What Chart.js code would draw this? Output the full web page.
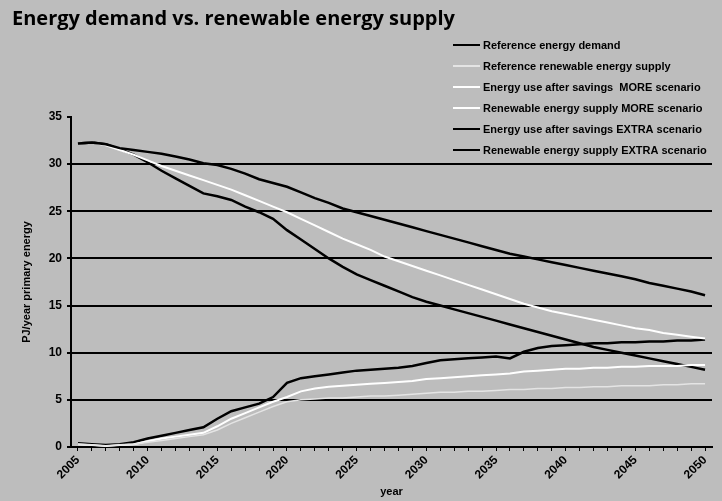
<!DOCTYPE html>
<html>
<head>
<meta charset="utf-8">
<title>Energy demand vs. renewable energy supply</title>
<script src="https://cdn.jsdelivr.net/npm/chart.js@4.4.1/dist/chart.umd.min.js"></script>
<style>
    html, body { margin: 0; padding: 0; background: #bdbdbd; }
    canvas { display: block; }
</style>
</head>
<body>
<canvas id="energyChart" width="722" height="501"></canvas>
<script>
// categories
const years = [
    "2005", "2006", "2007", "2008", "2009", "2010", "2011", "2012", "2013", "2014",
    "2015", "2016", "2017", "2018", "2019", "2020", "2021", "2022", "2023", "2024",
    "2025", "2026", "2027", "2028", "2029", "2030", "2031", "2032", "2033", "2034",
    "2035", "2036", "2037", "2038", "2039", "2040", "2041", "2042", "2043", "2044",
    "2045", "2046", "2047", "2048", "2049", "2050"
];

// tick labels shown on the axes
const yearLabels = ["2005", "2010", "2015", "2020", "2025", "2030", "2035", "2040", "2045", "2050"];
const yTicks = [0, 5, 10, 15, 20, 25, 30, 35];

// PJ/year primary energy
const refDemand = [
    32.2, 32.3, 32.1, 31.7, 31.5, 31.3, 31.1, 30.8, 30.5, 30.1,
    29.9, 29.5, 29.0, 28.4, 28.0, 27.6, 27.0, 26.4, 25.9, 25.3,
    24.9, 24.5, 24.1, 23.7, 23.3, 22.9, 22.5, 22.1, 21.7, 21.3,
    20.9, 20.5, 20.2, 19.9, 19.6, 19.3, 19.0, 18.7, 18.4, 18.1,
    17.8, 17.4, 17.1, 16.8, 16.5, 16.1
];

const refRenewable = [
    0.3, 0.2, 0.1, 0.2, 0.3, 0.5, 0.7, 0.9, 1.1, 1.3,
    1.8, 2.5, 3.1, 3.7, 4.3, 4.8, 5.0, 5.1, 5.2, 5.2,
    5.3, 5.4, 5.4, 5.5, 5.6, 5.7, 5.8, 5.8, 5.9, 5.9,
    6.0, 6.1, 6.1, 6.2, 6.2, 6.3, 6.3, 6.4, 6.4, 6.5,
    6.5, 6.5, 6.6, 6.6, 6.7, 6.7
];

const moreUse = [
    32.2, 32.3, 32.0, 31.5, 31.0, 30.4, 29.8, 29.3, 28.8, 28.3,
    27.8, 27.3, 26.7, 26.1, 25.5, 24.9, 24.2, 23.5, 22.8, 22.1,
    21.5, 20.9, 20.2, 19.7, 19.2, 18.7, 18.2, 17.7, 17.2, 16.7,
    16.2, 15.7, 15.2, 14.8, 14.4, 14.1, 13.8, 13.5, 13.2, 12.9,
    12.6, 12.4, 12.1, 11.9, 11.7, 11.5
];

const moreRenewable = [
    0.3, 0.2, 0.1, 0.2, 0.3, 0.6, 0.9, 1.1, 1.3, 1.5,
    2.2, 3.0, 3.6, 4.2, 4.8, 5.3, 5.9, 6.2, 6.4, 6.5,
    6.6, 6.7, 6.8, 6.9, 7.0, 7.2, 7.3, 7.4, 7.5, 7.6,
    7.7, 7.8, 8.0, 8.1, 8.2, 8.3, 8.3, 8.4, 8.4, 8.5,
    8.5, 8.6, 8.6, 8.6, 8.7, 8.7
];

const extraUse = [
    32.2, 32.3, 32.1, 31.6, 31.0, 30.2, 29.3, 28.5, 27.7, 26.9,
    26.6, 26.2, 25.5, 24.9, 24.2, 23.0, 22.0, 21.0, 20.0, 19.1,
    18.3, 17.7, 17.1, 16.5, 15.9, 15.4, 15.0, 14.6, 14.2, 13.8,
    13.4, 13.0, 12.6, 12.2, 11.8, 11.4, 11.0, 10.6, 10.3, 10.0,
    9.7, 9.4, 9.1, 8.8, 8.5, 8.2
];

const extraRenewable = [
    0.4, 0.3, 0.2, 0.3, 0.5, 0.9, 1.2, 1.5, 1.8, 2.1,
    3.0, 3.8, 4.2, 4.6, 5.3, 6.8, 7.3, 7.5, 7.7, 7.9,
    8.1, 8.2, 8.3, 8.4, 8.6, 8.9, 9.2, 9.3, 9.4, 9.5,
    9.6, 9.4, 10.1, 10.5, 10.7, 10.8, 10.9, 11.0, 11.0, 11.1,
    11.1, 11.2, 11.2, 11.3, 11.3, 11.4
];

const BG = "#bdbdbd";
const BOLD_SANS = "'Liberation Sans', Arial, sans-serif";

function line(label, data, color, width) {
    return {
        label: label,
        data: data,
        borderColor: color,
        backgroundColor: color,
        borderWidth: width,
        pointRadius: 0,
        tension: 0,
        fill: false
    };
}

// page background
const backgroundPlugin = {
    id: "background",
    beforeDraw(chart) {
        const ctx = chart.ctx;
        ctx.save();
        ctx.fillStyle = BG;
        ctx.fillRect(0, 0, chart.width, chart.height);
        ctx.restore();
    }
};

// legend sits at the top right, over the plot
const overlayLegend = {
    id: "overlayLegend",
    afterDraw(chart) {
        const ctx = chart.ctx;
        ctx.save();
        ctx.font = "bold 11px " + BOLD_SANS;
        ctx.textBaseline = "middle";
        ctx.textAlign = "left";
        chart.data.datasets.forEach(function (ds, i) {
            const y = 45 + i * 21;
            ctx.strokeStyle = ds.borderColor;
            ctx.lineWidth = 2;
            ctx.beginPath();
            ctx.moveTo(453, y);
            ctx.lineTo(480, y);
            ctx.stroke();
            ctx.fillStyle = "#000";
            ctx.fillText(ds.label, 483, y + 1, 234);
        });
        ctx.restore();
    }
};

document.addEventListener("DOMContentLoaded", function () {

    const canvas = document.getElementById("energyChart");

    new Chart(canvas, {
        type: "line",
        data: {
            labels: years,
            datasets: [
                line("Reference energy demand", refDemand, "#000000", 2.5),
                line("Reference renewable energy supply", refRenewable, "#e4e4e4", 1.5),
                line("Energy use after savings  MORE scenario", moreUse, "#ffffff", 2),
                line("Renewable energy supply MORE scenario", moreRenewable, "#ffffff", 2),
                line("Energy use after savings EXTRA scenario", extraUse, "#000000", 2.5),
                line("Renewable energy supply EXTRA scenario", extraRenewable, "#000000", 2.5)
            ]
        },
        options: {
            responsive: false,
            animation: false,
            devicePixelRatio: 1,
            layout: {
                padding: { left: 12, right: 10, top: 0, bottom: 0 }
            },
            plugins: {
                legend: { display: false },
                tooltip: { enabled: false },
                title: {
                    display: true,
                    text: "Energy demand vs. renewable energy supply",
                    align: "start",
                    color: "#000",
                    font: { family: "'Open Sans', sans-serif", size: 20, weight: "bold", lineHeight: 1.2 },
                    padding: { top: 7, bottom: 86 }
                }
            },
            scales: {
                x: {
                    offset: true,
                    afterFit(scale) { scale.height = 54; },
                    border: { color: "#000", width: 2 },
                    grid: {
                        drawOnChartArea: false,
                        color: "#000",
                        tickLength: 4,
                        lineWidth: 1
                    },
                    ticks: {
                        autoSkip: false,
                        maxRotation: 45,
                        minRotation: 45,
                        padding: 2,
                        color: "#000",
                        font: { family: BOLD_SANS, size: 12, weight: "bold" },
                        callback: function (value) {
                            const lbl = this.getLabelForValue(value);
                            return yearLabels.includes(lbl) ? lbl : "";
                        }
                    },
                    title: {
                        display: true,
                        text: "year",
                        color: "#000",
                        font: { family: BOLD_SANS, size: 11, weight: "bold", lineHeight: 1.2 },
                        padding: { top: 0, bottom: 2 }
                    }
                },
                y: {
                    min: yTicks[0],
                    max: yTicks[yTicks.length - 1],
                    afterFit(scale) { scale.width = 59; },
                    afterBuildTicks(scale) {
                        scale.ticks = yTicks.map(function (v) { return { value: v }; });
                    },
                    border: { color: "#000", width: 2 },
                    grid: {
                        color: function (c) {
                            return c.tick && c.tick.value === 35 ? "rgba(0,0,0,0)" : "#000";
                        },
                        tickColor: "#000",
                        lineWidth: 2,
                        tickLength: 4
                    },
                    ticks: {
                        padding: 5,
                        color: "#000",
                        font: { family: BOLD_SANS, size: 12, weight: "bold" }
                    },
                    title: {
                        display: true,
                        text: "PJ/year primary energy",
                        color: "#000",
                        font: { family: BOLD_SANS, size: 11, weight: "bold", lineHeight: 1.2 },
                        padding: { top: 8, bottom: 0 }
                    }
                }
            }
        },
        plugins: [backgroundPlugin, overlayLegend]
    });

});
</script>
</body>
</html>
